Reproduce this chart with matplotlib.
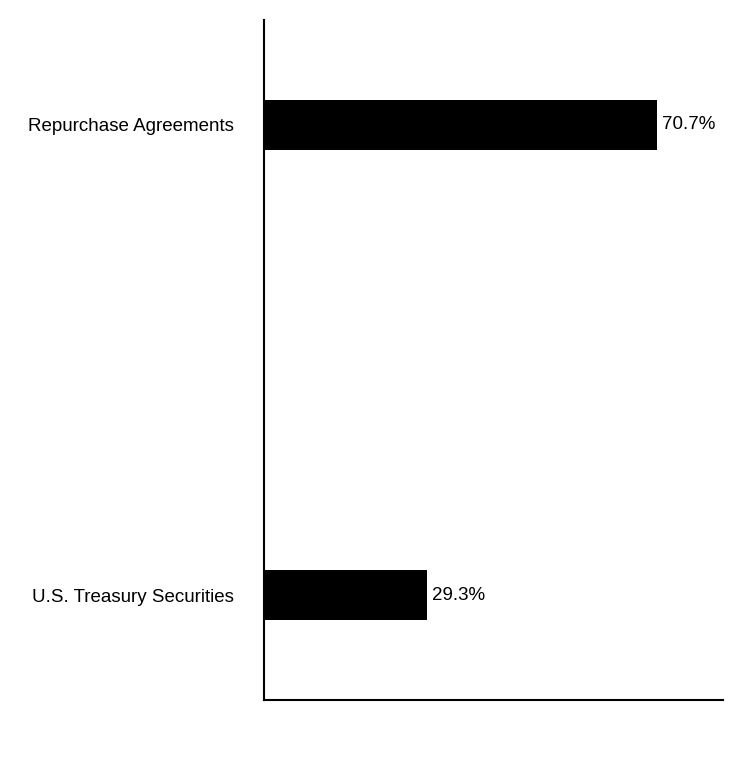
import matplotlib
matplotlib.use("Agg")
import matplotlib.pyplot as plt

categories = ["U.S. Treasury Securities", "Repurchase Agreements"]
values = [29.3, 70.7]
labels = ["29.3%", "70.7%"]

plt.rcParams['font.family'] = ['Liberation Sans', 'DejaVu Sans']
fig = plt.figure(figsize=(7.44, 7.8), dpi=100)
ax = fig.add_axes([264/744, 80/780, 459/744, 680/780])
ypos = list(range(len(categories)))
ax.barh(ypos, values, height=0.106, color="black")
for y, v, t in zip(ypos, values, labels):
    ax.text(v + 0.9, y, t, va="center", ha="left", fontsize=13.5)
ax.set_xlim(0, 82.6)
ax.set_ylim(-0.223, 1.223)
ax.set_yticks(ypos)
ax.set_yticklabels(categories, fontsize=13.5)
ax.tick_params(axis="y", length=0, pad=22)
ax.set_xticks([])
for s in ["top", "right"]:
    ax.spines[s].set_visible(False)
for s in ["left", "bottom"]:
    ax.spines[s].set_linewidth(1.5)
fig.savefig("out.png", dpi=100)
